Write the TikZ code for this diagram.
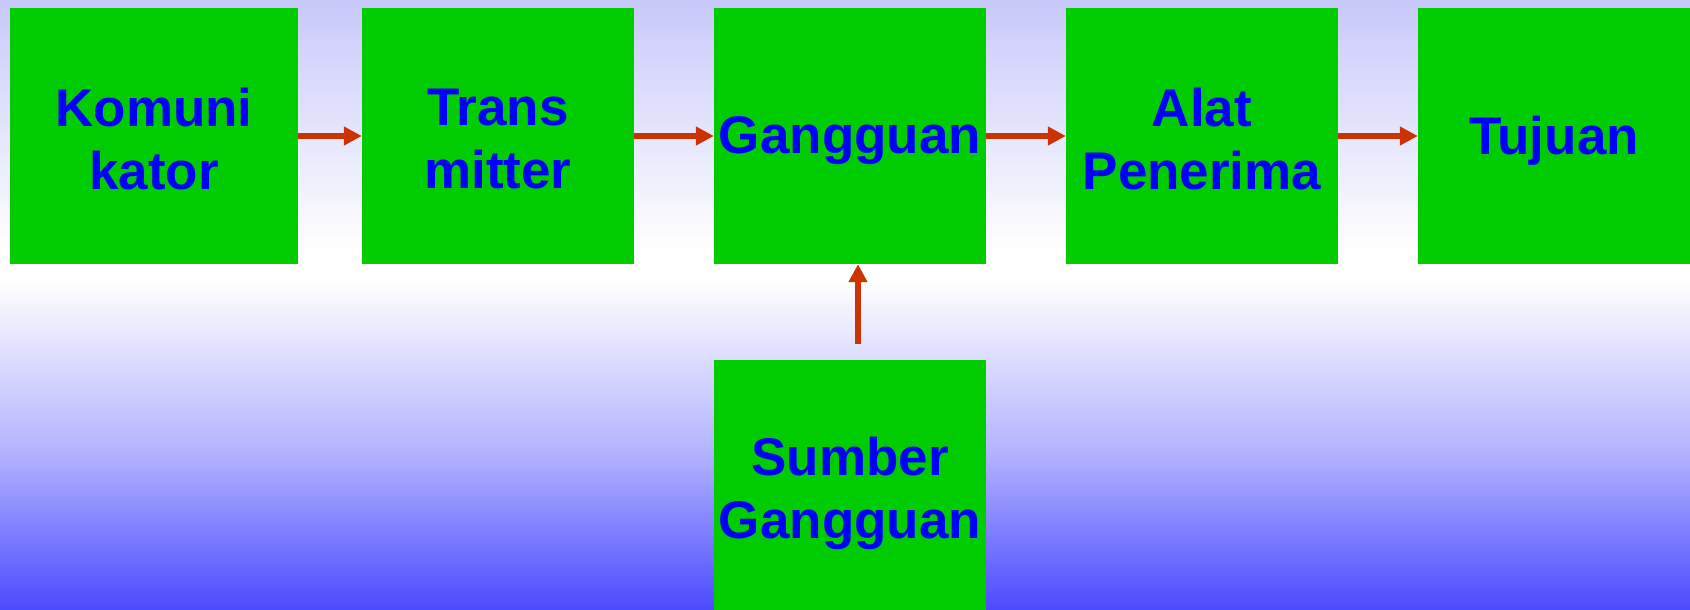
\documentclass[tikz,border=0pt]{standalone}
\usepackage{fontspec}
\setmainfont{Liberation Sans}
\usetikzlibrary{arrows.meta}
\definecolor{boxgreen}{RGB}{0,204,0}
\definecolor{txtblue}{RGB}{0,0,255}
\definecolor{arrred}{RGB}{204,51,0}
\definecolor{bgtop}{RGB}{200,200,250}
\definecolor{bgmid}{RGB}{180,180,255}
\definecolor{bgbot}{RGB}{75,75,255}
\tikzset{
  blockbox/.style={fill=boxgreen, draw=none, minimum width=272pt, minimum height=256pt, inner sep=0pt},
  blocktext/.style={text=txtblue, align=center, inner sep=0pt, font=\bfseries\fontsize{53}{63}\selectfont},
  onetext/.style={label={[blocktext,yshift=-5pt]center:#1}},
  twotext/.style={label={[blocktext,yshift=-3pt]center:#1}},
  arr/.style={draw=arrred, line width=6pt, -{Triangle[length=18pt,width=18pt]}}
}
\begin{document}
\begin{tikzpicture}[x=1pt,y=-1pt]
\useasboundingbox (0,0) rectangle (1690,610);
\clip (0,0) rectangle (1690,610);
% background
\shade[top color=bgtop, bottom color=white] (0,0) rectangle (1690,250);
\fill[white] (0,249) rectangle (1690,281);
\shade[top color=white, bottom color=bgmid] (0,280) rectangle (1690,450);
\shade[top color=bgmid, bottom color=bgbot] (0,449.5) rectangle (1690,610);
% boxes
\node[blockbox, minimum width=288pt, twotext={Komuni\\kator}] (b1) at (154,136) {};
\node[blockbox, twotext={Trans\\mitter}] (b2) at (498,136) {};
\node[blockbox, onetext={Gangguan}] (b3) at (850,136) {};
\node[blockbox, twotext={Alat\\Penerima}] (b4) at (1202,136) {};
\node[blockbox, onetext={Tujuan}] (b5) at (1554,136) {};
\node[blockbox, onetext={Sumber\\Gangguan}] (b6) at (850,488) {};
% arrows
\draw[arr] (b1.east) -- (b2.west);
\draw[arr] (b2.east) -- (b3.west);
\draw[arr] (b3.east) -- (b4.west);
\draw[arr] (b4.east) -- (b5.west);
\coordinate (src) at (858,344);
\draw[arr] (src) -- (src |- b3.south);
\end{tikzpicture}
\end{document}
